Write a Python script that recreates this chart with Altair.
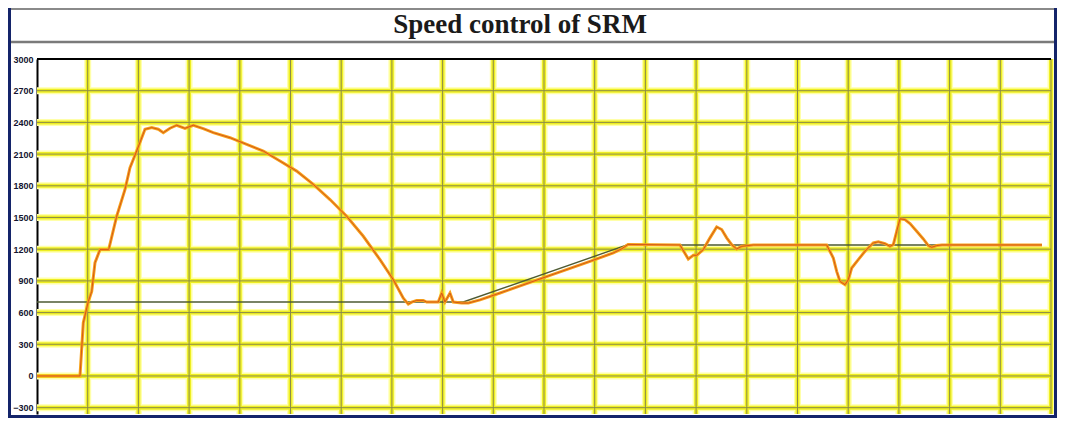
import altair as alt
import pandas as pd

# ---- data ----
speed_t = [0, 0.848, 0.913, 1.012, 1.079, 1.144, 1.243, 1.302, 1.414, 1.572, 1.736, 1.834, 1.966,
           2.130, 2.262, 2.393, 2.491, 2.623, 2.755, 2.919, 3.083, 3.280, 3.477, 3.807, 4.136,
           4.464, 4.793, 5.122, 5.450, 5.779, 6.108, 6.436, 6.765, 7.028, 7.225, 7.323, 7.390,
           7.489, 7.619, 7.686, 7.915, 7.982, 8.047, 8.146, 8.211, 8.377, 8.507, 8.738, 9.132,
           9.724, 10.316, 10.907, 11.367, 11.538, 11.657, 12.682, 12.846, 12.945, 13.012, 13.142,
           13.274, 13.406, 13.505, 13.603, 13.702, 13.801, 13.899, 14.128, 15.576, 15.706, 15.773,
           15.838, 15.937, 16.002, 16.069, 16.199, 16.331, 16.495, 16.594, 16.726, 16.824, 16.890,
           16.957, 17.022, 17.120, 17.219, 17.351, 17.481, 17.580, 17.647, 17.746, 17.850, 19.822]
speed_v = [0, 0, 503, 705, 800, 1072, 1196, 1196, 1196, 1512, 1765, 1971, 2129,
           2335, 2351, 2335, 2303, 2345, 2373, 2344, 2373, 2341, 2303, 2255, 2192,
           2129, 2034, 1939, 1813, 1670, 1512, 1322, 1101, 911, 737, 680, 699,
           715, 715, 700, 700, 785, 700, 785, 700, 690, 690, 720, 785,
           885, 985, 1085, 1165, 1205, 1245, 1240, 1107, 1142, 1142, 1196,
           1307, 1411, 1386, 1307, 1243, 1202, 1227, 1240, 1240, 1117, 990,
           895, 864, 911, 1022, 1101, 1180, 1259, 1269, 1253, 1227, 1243,
           1369, 1487, 1480, 1442, 1369, 1297, 1234, 1218, 1234, 1240, 1240]

ref_t = [0, 8.408, 11.637, 19.822]
ref_v = [700, 700, 1240, 1240]

y_ticks = [-300, 0, 300, 600, 900, 1200, 1500, 1800, 2100, 2400, 2700, 3000]
y_grid = [-300, 0, 300, 600, 900, 1200, 1500, 1800, 2100, 2400, 2700]
x_grid = list(range(1, 21))

title_text = "Speed control of SRM"

# ---- tables ----
speed_df = pd.DataFrame({"t": speed_t, "v": speed_v})
ref_df = pd.DataFrame({"t": ref_t, "v": ref_v})
ygrid_df = pd.DataFrame({"v": y_grid})
xgrid_df = pd.DataFrame({"t": x_grid})
top_df = pd.DataFrame({"v": [3000]})

xs = alt.Scale(domain=[0, 20], nice=False, zero=False)
ys = alt.Scale(domain=[-360, 3000], nice=False, zero=False)

yaxis = alt.Axis(values=y_ticks, format="d", grid=False, ticks=False, domain=True,
                 domainColor="#000000", domainWidth=2, labelFont="Liberation Sans",
                 labelFontSize=9, labelFontWeight="bold", labelColor="#141430",
                 labelPadding=4, title=None, labelFlush=False, labelOverlap=False)


def X():
    return alt.X("t:Q", scale=xs, axis=None)


def Y():
    return alt.Y("v:Q", scale=ys, axis=yaxis)


# grid: yellow band + olive core
hg_glow = alt.Chart(ygrid_df).mark_rule(color="#FFFFA8", strokeWidth=7).encode(y=Y())
hg_band = alt.Chart(ygrid_df).mark_rule(color="#EEEE22", strokeWidth=4).encode(y=Y())
hg_core = alt.Chart(ygrid_df).mark_rule(color="#8C8C48", strokeWidth=1).encode(y=Y())
vg_glow = alt.Chart(xgrid_df).mark_rule(color="#FFFFA8", strokeWidth=7).encode(x=X())
vg_band = alt.Chart(xgrid_df).mark_rule(color="#EEEE22", strokeWidth=4).encode(x=X())
vg_core = alt.Chart(xgrid_df).mark_rule(color="#8C8C48", strokeWidth=1).encode(x=X())

top_line = alt.Chart(top_df).mark_rule(color="#000000", strokeWidth=2).encode(y=Y())

ref_line = alt.Chart(ref_df).mark_line(color="#4E5B34", strokeWidth=1.4).encode(x=X(), y=Y())

speed_outer = alt.Chart(speed_df).mark_line(color="#F7A21B", strokeWidth=3).encode(x=X(), y=Y())
speed_core = alt.Chart(speed_df).mark_line(color="#D4581A", strokeWidth=1).encode(x=X(), y=Y())

# title band and frame (decoration)
title = alt.Chart().mark_text(text=title_text, font="Liberation Serif", fontSize=27,
                              fontWeight="bold", color="#1A1A1A", align="center",
                              baseline="alphabetic").encode(x=alt.value(483), y=alt.value(-26))
divider = alt.Chart().mark_rule(color="#7A7A7A", strokeWidth=2.5).encode(
    x=alt.value(-28), x2=alt.value(1019), y=alt.value(-17))
top_frame = alt.Chart().mark_rule(color="#8A8A8A", strokeWidth=2).encode(
    x=alt.value(-28), x2=alt.value(1019), y=alt.value(-50))
left_frame = alt.Chart().mark_rule(color="#14246A", strokeWidth=3).encode(
    x=alt.value(-27.5), y=alt.value(-51), y2=alt.value(359))
right_frame = alt.Chart().mark_rule(color="#14246A", strokeWidth=3).encode(
    x=alt.value(1018.5), y=alt.value(-51), y2=alt.value(359))
bottom_frame = alt.Chart().mark_rule(color="#14246A", strokeWidth=3).encode(
    x=alt.value(-29), x2=alt.value(1020), y=alt.value(357.5))

chart = alt.layer(
    hg_glow, vg_glow, hg_band, vg_band, hg_core, vg_core,
    top_line, ref_line, speed_outer, speed_core,
    title, divider, top_frame, left_frame, right_frame, bottom_frame,
).properties(
    width=1014, height=355,
    autosize=alt.AutoSizeParams(type="none"),
    padding={"left": 29, "top": 51, "right": 6, "bottom": 5},
    background="#FFFFFF",
).configure_view(stroke=None)

chart.save("out.html", embed_options={"renderer": "svg", "actions": False})
